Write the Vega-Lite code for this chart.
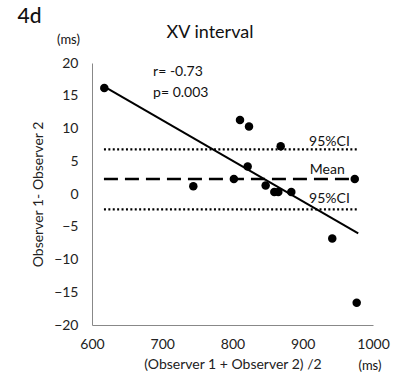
{
  "$schema": "https://vega.github.io/schema/vega-lite/v6.json",
  "autosize": "none",
  "width": 281,
  "height": 262,
  "padding": {"left": 92, "top": 63, "right": 23, "bottom": 62},
  "background": "white",
  "config": {
    "font": "Lato",
    "view": {"stroke": null},
    "axis": {"domainColor": "#888888", "domainWidth": 1, "ticks": false, "grid": false, "labelColor": "#222222", "titleColor": "#222222", "labelFont": "Lato", "titleFont": "Lato", "titleFontWeight": "normal", "labelFontSize": 14, "titleFontSize": 14, "labelOverlap": false, "labelFlush": false, "format": "d"}
  },
  "datasets": {
    "points": [
      {"avg": 617.5, "diff": 16.2},
      {"avg": 810.7, "diff": 11.3},
      {"avg": 823.5, "diff": 10.3},
      {"avg": 868.6, "diff": 7.3},
      {"avg": 821.6, "diff": 4.2},
      {"avg": 744.2, "diff": 1.2},
      {"avg": 802.0, "diff": 2.3},
      {"avg": 847.2, "diff": 1.3},
      {"avg": 859.5, "diff": 0.3},
      {"avg": 865.2, "diff": 0.3},
      {"avg": 883.7, "diff": 0.3},
      {"avg": 974.0, "diff": 2.3},
      {"avg": 942.0, "diff": -6.8},
      {"avg": 976.8, "diff": -16.6}
    ],
    "fit": [
      {"avg": 617.5, "diff": 16.4},
      {"avg": 979.0, "diff": -6.0}
    ],
    "limits": [
      {"kind": "upper", "start": 617, "end": 979, "value": 6.8},
      {"kind": "mean", "start": 617, "end": 979, "value": 2.3},
      {"kind": "lower", "start": 617, "end": 979, "value": -2.35}
    ],
    "notes": [
      {"label": "r= -0.73", "x": 687, "y": 18.6},
      {"label": "p= 0.003", "x": 687, "y": 15.4},
      {"label": "95%CI", "x": 909, "y": 7.9},
      {"label": "Mean", "x": 910, "y": 3.7},
      {"label": "95%CI", "x": 909, "y": -0.8}
    ],
    "centered": [
      {"label": "4d", "x": 511, "y": 27.0, "size": "huge"},
      {"label": "XV interval", "x": 768, "y": 24.6, "size": "big"},
      {"label": "(ms)", "x": 566.5, "y": 23.5, "size": "small"},
      {"label": "(ms)", "x": 995.7, "y": -26.3, "size": "small"}
    ]
  },
  "encoding": {
    "x": {"field": "avg", "type": "quantitative", "scale": {"domain": [600, 1000], "nice": false, "zero": false}, "axis": {"values": [600, 700, 800, 900, 1000], "title": "(Observer 1 + Observer 2) /2", "labelPadding": 12, "titlePadding": 6}},
    "y": {"field": "diff", "type": "quantitative", "scale": {"domain": [-20, 20], "nice": false, "zero": false}, "axis": {"values": [-20, -15, -10, -5, 0, 5, 10, 15, 20], "tickCount": 9, "labelOverlap": false, "title": "Observer 1- Observer 2", "labelPadding": 14, "titlePadding": 8}}
  },
  "layer": [
    {
      "data": {"name": "points"},
      "mark": {"type": "point", "filled": true, "color": "#000000", "opacity": 1, "size": 72, "shape": "circle"}
    },
    {
      "data": {"name": "fit"},
      "mark": {"type": "line", "color": "#000000", "strokeWidth": 2}
    },
    {
      "data": {"name": "limits"},
      "transform": [{"filter": "datum.kind !== 'mean'"}],
      "mark": {"type": "rule", "color": "#000000", "strokeWidth": 2.2, "strokeDash": [2, 2.4], "strokeCap": "butt"},
      "encoding": {
        "x": {"field": "start", "type": "quantitative"},
        "x2": {"field": "end"},
        "y": {"field": "value", "type": "quantitative"}
      }
    },
    {
      "data": {"name": "limits"},
      "transform": [{"filter": "datum.kind === 'mean'"}],
      "mark": {"type": "rule", "color": "#000000", "strokeWidth": 2.6, "strokeDash": [14, 7], "strokeCap": "butt"},
      "encoding": {
        "x": {"field": "start", "type": "quantitative"},
        "x2": {"field": "end"},
        "y": {"field": "value", "type": "quantitative"}
      }
    },
    {
      "data": {"name": "notes"},
      "mark": {"type": "text", "align": "left", "baseline": "middle", "fontSize": 14, "font": "Lato", "color": "#111111"},
      "encoding": {
        "x": {"field": "x", "type": "quantitative"},
        "y": {"field": "y", "type": "quantitative"},
        "text": {"field": "label"}
      }
    },
    {
      "data": {"name": "centered"},
      "transform": [{"filter": "datum.size === 'huge'"}],
      "mark": {"type": "text", "align": "center", "baseline": "middle", "fontSize": 21, "fontWeight": 500, "font": "Lato", "color": "#111111"},
      "encoding": {
        "x": {"field": "x", "type": "quantitative"},
        "y": {"field": "y", "type": "quantitative"},
        "text": {"field": "label"}
      }
    },
    {
      "data": {"name": "centered"},
      "transform": [{"filter": "datum.size === 'big'"}],
      "mark": {"type": "text", "align": "center", "baseline": "middle", "fontSize": 18, "font": "Lato", "color": "#111111"},
      "encoding": {
        "x": {"field": "x", "type": "quantitative"},
        "y": {"field": "y", "type": "quantitative"},
        "text": {"field": "label"}
      }
    },
    {
      "data": {"name": "centered"},
      "transform": [{"filter": "datum.size === 'small'"}],
      "mark": {"type": "text", "align": "center", "baseline": "middle", "fontSize": 13, "font": "Lato", "color": "#111111"},
      "encoding": {
        "x": {"field": "x", "type": "quantitative"},
        "y": {"field": "y", "type": "quantitative"},
        "text": {"field": "label"}
      }
    }
  ]
}
